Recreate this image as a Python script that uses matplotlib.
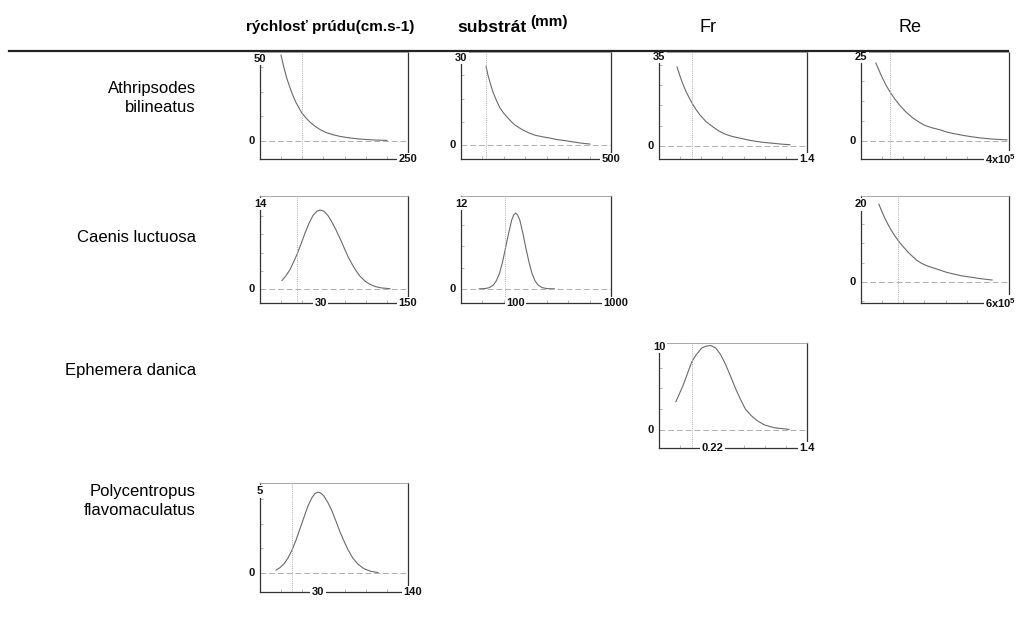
import numpy as np
import matplotlib
matplotlib.use("Agg")
import matplotlib.pyplot as plt
import matplotlib.transforms as mtransforms
from matplotlib.lines import Line2D

plt.rcParams['font.family'] = ['Liberation Sans', 'DejaVu Sans']
plt.rcParams['mathtext.fontset'] = 'custom'
plt.rcParams['mathtext.rm'] = 'Liberation Sans'
plt.rcParams['mathtext.bf'] = 'Liberation Sans:bold'

W, H = 1017, 626

species = ["Athripsodes\nbilineatus", "Caenis luctuosa", "Ephemera danica",
           "Polycentropus\nflavomaculatus"]

# response curves: x = position along the axis (0..1), y = response
ath_vel_x = [0.142, 0.162, 0.182, 0.203, 0.223, 0.243, 0.264, 0.284, 0.311, 0.338, 0.372, 0.405,
             0.446, 0.493, 0.541, 0.595, 0.655, 0.716, 0.784, 0.858]
ath_vel_y = [52.4, 44.6, 38.0, 32.4, 27.6, 23.5, 20.0, 17.0, 14.0, 11.5, 9.0, 7.0,
             5.2, 3.8, 2.8, 2.0, 1.35, 0.9, 0.55, 0.35]
ath_sub_x = [0.167, 0.18, 0.197, 0.213, 0.237, 0.26, 0.283, 0.307, 0.333, 0.36, 0.387, 0.413,
             0.453, 0.493, 0.54, 0.593, 0.64, 0.693, 0.753, 0.813, 0.86]
ath_sub_y = [27.2, 24.1, 21.0, 18.3, 15.3, 12.8, 11.1, 9.7, 8.2, 6.9, 6.0, 5.2,
             4.2, 3.4, 2.9, 2.4, 1.9, 1.55, 1.05, 0.6, 0.35]
ath_fr_x = [0.122, 0.142, 0.162, 0.182, 0.203, 0.223, 0.25, 0.277, 0.318, 0.365, 0.405, 0.446,
            0.493, 0.547, 0.601, 0.649, 0.696, 0.75, 0.818, 0.885]
ath_fr_y = [31.1, 27.5, 24.3, 21.5, 19.1, 16.9, 14.4, 12.2, 9.6, 7.5, 5.9, 4.7,
            3.8, 3.1, 2.4, 1.9, 1.5, 1.2, 0.8, 0.5]
ath_re_x = [0.101, 0.122, 0.142, 0.169, 0.196, 0.23, 0.264, 0.304, 0.351, 0.392, 0.432, 0.48,
            0.534, 0.581, 0.635, 0.682, 0.736, 0.804, 0.872, 0.939, 0.986]
ath_re_y = [23.2, 21.0, 19.0, 16.6, 14.6, 12.4, 10.5, 8.6, 6.8, 5.6, 4.6, 3.9,
            3.3, 2.6, 2.1, 1.7, 1.3, 0.9, 0.6, 0.4, 0.3]

cae_vel_x = [0.149, 0.176, 0.203, 0.23, 0.25, 0.277, 0.304, 0.331, 0.358, 0.385, 0.405, 0.432, 0.459,
             0.486, 0.514, 0.541, 0.568, 0.595, 0.622, 0.649, 0.676, 0.709, 0.743, 0.777, 0.818, 0.878]
cae_vel_y = [1.4, 2.2, 3.2, 4.6, 5.7, 7.4, 9.2, 10.8, 12.1, 12.8, 13.0, 12.8, 12.1,
             11.0, 9.7, 8.3, 6.8, 5.3, 4.1, 3.0, 2.1, 1.3, 0.77, 0.42, 0.19, 0.05]
cae_sub_x = [0.122, 0.162, 0.189, 0.216, 0.236, 0.257, 0.277, 0.297, 0.318, 0.338, 0.351, 0.365,
             0.378, 0.392, 0.412, 0.432, 0.453, 0.473, 0.493, 0.514, 0.541, 0.574, 0.622]
cae_sub_y = [0.0, 0.04, 0.17, 0.54, 1.15, 2.2, 3.8, 5.8, 7.9, 9.7, 10.4, 10.7,
             10.4, 9.7, 7.9, 5.8, 3.8, 2.2, 1.15, 0.54, 0.17, 0.03, 0.0]
cae_re_x = [0.121, 0.141, 0.161, 0.181, 0.201, 0.221, 0.248, 0.282, 0.322, 0.376, 0.409, 0.45,
            0.49, 0.53, 0.577, 0.631, 0.678, 0.732, 0.799, 0.886]
cae_re_y = [20.0, 18.1, 16.4, 14.9, 13.5, 12.3, 10.8, 9.2, 7.5, 5.6, 4.8, 4.1,
            3.6, 3.1, 2.5, 2.0, 1.6, 1.3, 0.9, 0.5]

eph_fr_x = [0.114, 0.134, 0.161, 0.188, 0.221, 0.248, 0.289, 0.315, 0.349, 0.383, 0.416, 0.45,
            0.483, 0.517, 0.55, 0.584, 0.624, 0.664, 0.711, 0.779, 0.879]
eph_fr_y = [3.4, 4.2, 5.3, 6.6, 8.2, 9.0, 9.9, 10.1, 10.2, 9.9, 9.1, 7.9,
            6.5, 5.0, 3.7, 2.5, 1.7, 1.1, 0.6, 0.25, 0.05]

pol_vel_x = [0.108, 0.135, 0.162, 0.189, 0.216, 0.243, 0.27, 0.297, 0.324, 0.351, 0.372, 0.392, 0.412,
             0.432, 0.459, 0.486, 0.514, 0.541, 0.568, 0.595, 0.628, 0.662, 0.703, 0.75, 0.797]
pol_vel_y = [0.18, 0.33, 0.56, 0.91, 1.4, 2.0, 2.7, 3.4, 4.1, 4.6, 4.86, 4.94, 4.88,
             4.7, 4.3, 3.8, 3.15, 2.5, 1.94, 1.42, 0.9, 0.54, 0.26, 0.1, 0.03]

panels = [
    # row, col, curve, top value label, y range, dotted line, end label (+pos), optimum
    dict(row=0, col=0, x=ath_vel_x, y=ath_vel_y, top="50", ylim=(-11.0, 54.3), vx=0.284, end=("250", 1.0), opt=None),
    dict(row=0, col=1, x=ath_sub_x, y=ath_sub_y, top="30", ylim=(-4.8, 32.1), vx=0.167, end=("500", 1.0), opt=None),
    dict(row=0, col=2, x=ath_fr_x, y=ath_fr_y, top="35", ylim=(-5.1, 37.0), vx=0.223, end=("1.4", 1.0), opt=None),
    dict(row=0, col=3, x=ath_re_x, y=ath_re_y, top="25", ylim=(-5.4, 26.5), vx=0.196, end=(r"$\mathbf{4x10^5}$", 0.945), opt=None),
    dict(row=1, col=0, x=cae_vel_x, y=cae_vel_y, top="14", ylim=(-2.3, 15.3), vx=0.25, end=("150", 1.0), opt=("30", 0.412)),
    dict(row=1, col=1, x=cae_sub_x, y=cae_sub_y, top="12", ylim=(-2.0, 13.1), vx=0.291, end=("1000", 1.03), opt=("100", 0.365)),
    dict(row=1, col=3, x=cae_re_x, y=cae_re_y, top="20", ylim=(-5.4, 22.1), vx=0.248, end=(r"$\mathbf{6x10^5}$", 0.945), opt=None),
    dict(row=2, col=2, x=eph_fr_x, y=eph_fr_y, top="10", ylim=(-2.2, 10.5), vx=0.221, end=("1.4", 1.0), opt=("0.22", 0.362)),
    dict(row=3, col=0, x=pol_vel_x, y=pol_vel_y, top="5", ylim=(-1.16, 5.5), vx=0.216, end=("140", 1.03), opt=("30", 0.392)),
]

col_left = [260, 461, 659, 861]
col_width = [148, 150, 148, 148]
row_top = [52, 196, 343, 483]
row_bottom = [159, 303, 448, 592]
row_label_y = [98, 238, 371, 501]

fig = plt.figure(figsize=(W / 100, H / 100), dpi=100)

lab_kw = dict(fontsize=8, fontweight='bold', color='#111', zorder=10, clip_on=False,
              bbox=dict(facecolor='white', edgecolor='none', pad=1.0))

for p in panels:
    l, w = col_left[p['col']], col_width[p['col']]
    t, b = row_top[p['row']], row_bottom[p['row']]
    ax = fig.add_axes([l / W, 1 - b / H, w / W, (b - t) / H])
    ax.plot(p['x'], p['y'], color='#6a6a6a', lw=0.8, solid_joinstyle='round')
    ax.axhline(0, color='#b0b0b0', lw=0.7, ls=(0, (6, 3)))
    ax.axvline(p['vx'], color='#b0b0b0', lw=0.7, ls=(0, (1, 1.2)))
    ax.set_xlim(0, 1)
    ax.set_ylim(*p['ylim'])
    for s in ['left', 'bottom', 'right']:
        ax.spines[s].set_color('#333333')
        ax.spines[s].set_linewidth(0.9)
    ax.spines['top'].set_color('#9a9a9a')
    ax.spines['top'].set_linewidth(0.6)
    ax.set_xticks(np.arange(1, 7) / 7)
    ax.yaxis.set_major_locator(plt.MaxNLocator(6))
    ax.tick_params(length=2.5, width=0.5, color='#999', direction='in',
                   labelbottom=False, labelleft=False)
    trans = mtransforms.blended_transform_factory(ax.transAxes, ax.transData)
    ax.text(0, float(p['top']), p['top'], transform=trans, ha='center', va='center', **lab_kw)
    ax.text(-0.035, 0, "0", transform=trans, ha='right', va='center',
            fontsize=8, fontweight='bold', color='#111')
    ax.text(p['end'][1], 0, p['end'][0], transform=ax.transAxes, ha='center', va='center', **lab_kw)
    if p['opt'] is not None:
        ax.text(p['opt'][1], 0, p['opt'][0], transform=ax.transAxes, ha='center', va='center', **lab_kw)

# header line
fig.add_artist(Line2D([9 / W, 1008 / W], [1 - 51 / H, 1 - 51 / H], color='#222', lw=1.6))

# column headers
fig.text(330 / W, 1 - 27 / H, "rýchlosť prúdu(cm.s-1)", ha='center', va='center',
         fontsize=11, fontweight='bold')
fig.text(492 / W, 1 - 27 / H, "substrát", ha='center', va='center',
         fontsize=12.5, fontweight='bold')
fig.text(549 / W, 1 - 22 / H, "(mm)", ha='center', va='center',
         fontsize=11, fontweight='bold')
fig.text(708 / W, 1 - 27 / H, "Fr", ha='center', va='center', fontsize=13)
fig.text(910 / W, 1 - 27 / H, "Re", ha='center', va='center', fontsize=13)

# species labels
for name, yy in zip(species, row_label_y):
    fig.text(196 / W, 1 - yy / H, name, ha='right', va='center', fontsize=12,
             linespacing=1.3)

fig.savefig("out.png", dpi=100)
